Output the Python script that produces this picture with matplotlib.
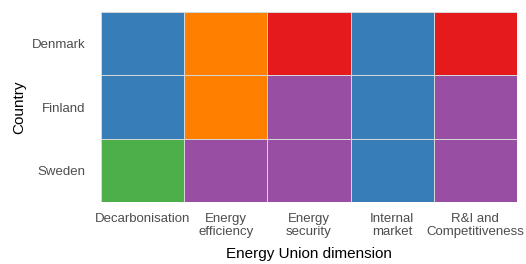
import matplotlib
matplotlib.use("Agg")
import matplotlib.pyplot as plt
from matplotlib.colors import ListedColormap
import numpy as np

countries = ["Denmark", "Finland", "Sweden"]
dimensions = ["Decarbonisation", "Energy\nefficiency", "Energy\nsecurity",
              "Internal\nmarket", "R&I and\nCompetitiveness"]

# category of each cell (row = country, col = dimension)
denmark = ["B", "O", "R", "B", "R"]
finland = ["B", "O", "P", "B", "P"]
sweden = ["G", "P", "P", "B", "P"]

levels = ["B", "O", "R", "P", "G"]
palette = ["#377EB8", "#FF7F00", "#E41A1C", "#984EA3", "#4DAF4A"]

plt.rcParams["font.family"] = ["Liberation Sans", "DejaVu Sans"]

grid = np.array([[levels.index(v) for v in row] for row in [denmark, finland, sweden]])

fig = plt.figure(figsize=(5.26, 2.64), dpi=100)
ax = fig.add_axes([101 / 526, 1 - 202 / 264, 416 / 526, 190 / 264])

ax.pcolormesh(np.arange(len(dimensions) + 1), np.arange(len(countries) + 1), grid,
              cmap=ListedColormap(palette), vmin=-0.5, vmax=len(levels) - 0.5,
              edgecolor="#d6d6d6", linewidth=0.7)
ax.set_xlim(0, len(dimensions))
ax.set_ylim(len(countries), 0)

ax.set_xticks(np.arange(len(dimensions)) + 0.5)
ax.set_xticklabels(dimensions, fontsize=9.5, color="#4d4d4d", linespacing=1.1)
ax.set_yticks(np.arange(len(countries)) + 0.5)
ax.set_yticklabels(countries, fontsize=9.5, color="#4d4d4d")
ax.tick_params(axis="x", length=0, pad=8)
ax.tick_params(axis="y", length=0, pad=11)
for s in ax.spines.values():
    s.set_visible(False)

ax.set_xlabel("Energy Union dimension", fontsize=11, labelpad=0)
ax.xaxis.set_label_coords(0.5, -0.235)
ax.set_ylabel("Country", fontsize=11, labelpad=4)

fig.savefig("out.png", dpi=100)
